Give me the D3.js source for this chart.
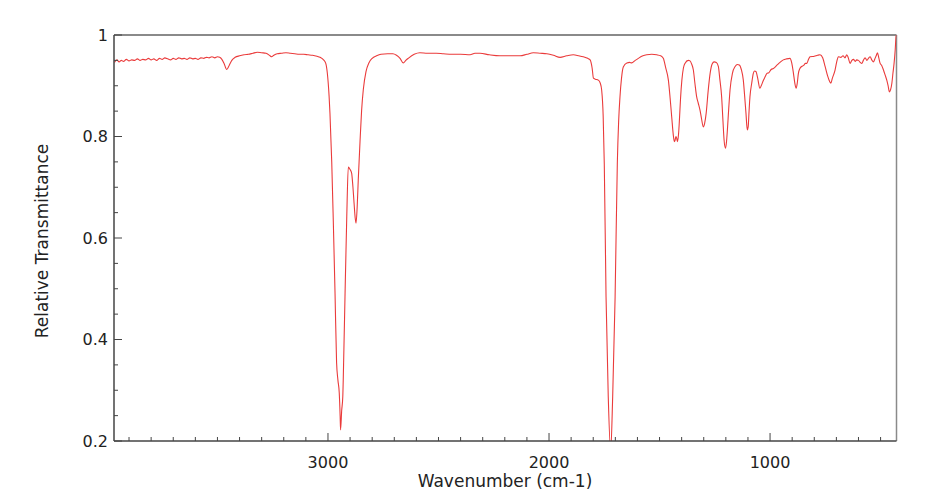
<!DOCTYPE html>
<html>
<head>
<meta charset="utf-8">
<script src="https://cdn.jsdelivr.net/npm/d3@7"></script>
<style>
  html, body { margin: 0; padding: 0; background: #fff; }
  svg { display: block; }
  text { font-family: "DejaVu Sans", sans-serif; fill: #222; }
</style>
</head>
<body>
<svg id="chart" width="928" height="503"></svg>
<script>
// ---- data ----
const wavenumbers = [
  3966,3955,3945,3935,3925,3912,3900,3888,3875,3862,3850,3838,3825,3812,3800,3788,3775,3762,3750,3738,
  3725,3712,3700,3688,3675,3662,3650,3638,3625,3612,3600,3588,3575,3562,3550,3538,3525,3512,3500,3490,
  3480,3470,3458,3447,3435,3420,3400,3380,3360,3340,3320,3300,3280,3262,3255,3245,3230,3210,3190,3170,
  3150,3130,3110,3090,3070,3050,3036,3020,3010,3003,2995,2991,2983,2976,2968,2961,2955,2949,2945,2943,
  2938,2933,2928,2923,2915,2908,2900,2893,2887,2882,2877,2873,2868,2863,2855,2848,2840,2828,2815,2800,
  2780,2760,2730,2706,2690,2674,2659,2648,2637,2610,2584,2550,2510,2478,2440,2400,2357,2335,2312,2270,
  2222,2180,2131,2100,2071,2040,2010,1980,1950,1920,1890,1865,1845,1825,1814,1805,1799,1790,1777,1768,
  1762,1755,1750,1742,1732,1721,1712,1701,1691,1685,1679,1672,1664,1648,1635,1626,1610,1596,1575,1558,
  1535,1513,1495,1483,1472,1460,1452,1445,1437,1433,1430,1426,1422,1419,1414,1410,1405,1399,1392,1385,
  1370,1362,1355,1347,1340,1332,1325,1317,1310,1302,1296,1289,1280,1271,1262,1253,1243,1234,1227,1219,
  1213,1208,1202,1197,1193,1187,1181,1170,1158,1148,1139,1130,1121,1115,1109,1103,1099,1095,1091,1083,
  1076,1070,1064,1056,1046,1040,1030,1022,1015,1005,995,985,970,955,940,925,910,902,894,888,
  882,877,872,865,857,848,840,834,826,819,800,785,774,762,751,740,730,725,718,706,
  698,691,680,670,661,653,646,638,630,622,615,608,600,592,585,578,570,562,555,547,
  540,532,525,519,514,508,502,495,487,480,472,466,460,455,449,444,439,434,430,428
];
const transmittance = [
  .946,.951,.947,.950,.948,.952,.949,.951,.950,.953,.950,.952,.951,.954,.951,.953,.950,.954,.952,.955,
  .953,.951,.954,.952,.955,.953,.954,.952,.955,.953,.954,.952,.955,.954,.956,.955,.957,.955,.957,.956,
  .952,.944,.932,.940,.950,.956,.959,.961,.962,.964,.966,.965,.964,.959,.957,.960,.963,.964,.965,.964,
  .963,.962,.962,.961,.960,.958,.956,.951,.944,.925,.880,.846,.750,.635,.490,.354,.320,.295,.250,.222,
  .260,.287,.380,.484,.642,.740,.735,.728,.700,.669,.640,.629,.660,.714,.790,.850,.893,.928,.945,.954,
  .959,.962,.963,.963,.960,.954,.945,.950,.954,.962,.965,.964,.964,.963,.962,.962,.961,.964,.964,.961,
  .959,.959,.959,.962,.965,.964,.963,.960,.956,.959,.961,.959,.957,.954,.951,.935,.915,.913,.911,.905,
  .892,.840,.747,.484,.287,.180,.287,.484,.747,.830,.878,.915,.937,.945,.946,.945,.950,.954,.959,.961,
  .962,.961,.959,.954,.935,.911,.875,.839,.800,.790,.792,.800,.796,.790,.805,.833,.875,.911,.935,.944,
  .950,.949,.943,.931,.905,.878,.866,.852,.835,.819,.826,.846,.890,.925,.943,.947,.946,.938,.912,.878,
  .830,.793,.777,.790,.813,.855,.892,.925,.938,.942,.941,.932,.911,.880,.846,.813,.819,.850,.878,.905,
  .924,.929,.928,.915,.895,.900,.911,.918,.924,.926,.932,.934,.940,.946,.951,.953,.954,.945,.924,.905,
  .895,.905,.924,.934,.938,.940,.944,.944,.952,.957,.958,.960,.961,.955,.938,.920,.908,.905,.915,.931,
  .948,.957,.956,.959,.955,.961,.955,.944,.950,.952,.948,.951,.950,.946,.944,.950,.955,.950,.954,.957,
  .951,.947,.954,.960,.965,.955,.944,.940,.931,.922,.911,.900,.888,.892,.905,.925,.944,.970,.997,1.0
];
const xMajorTicks = [3000, 2000, 1000];
const yMajorTicks = [0.2, 0.4, 0.6, 0.8, 1];
const yTickLabels = ["0.2", "0.4", "0.6", "0.8", "1"];
const xDomain = [3968, 428];
const yDomain = [0.2, 1];
const xTitle = "Wavenumber (cm-1)";
const yTitle = "Relative Transmittance";

// ---- layout ----
const W = 928, H = 503;
const margin = {top: 35, right: 31.5, bottom: 62, left: 114};
const iw = W - margin.left - margin.right;
const ih = H - margin.top - margin.bottom;

const svg = d3.select("#chart");
const g = svg.append("g").attr("transform", `translate(${margin.left},${margin.top})`);

const x = d3.scaleLinear().domain(xDomain).range([0, iw]);
const y = d3.scaleLinear().domain(yDomain).range([ih, 0]);

svg.append("defs").append("clipPath").attr("id", "clip")
  .append("rect").attr("x", 0).attr("y", 0).attr("width", iw).attr("height", ih);

// frame (top/right lighter grey)
g.append("line").attr("x1", 0).attr("x2", iw).attr("y1", 0).attr("y2", 0)
  .attr("stroke", "#8a8a8a").attr("stroke-width", 2);
g.append("line").attr("x1", iw).attr("x2", iw).attr("y1", 0).attr("y2", ih)
  .attr("stroke", "#8a8a8a").attr("stroke-width", 1.5);

// spectrum
const data = wavenumbers.map((w, i) => ({w, t: transmittance[i]}));
const line = d3.line().x(d => x(d.w)).y(d => y(d.t)).curve(d3.curveMonotoneX);
g.append("path").datum(data)
  .attr("clip-path", "url(#clip)")
  .attr("fill", "none").attr("stroke", "#ea3b3b").attr("stroke-width", 1.1)
  .attr("d", line);

// x axis with inward ticks
const xMinor = d3.range(500, 4000, 100).filter(v => v <= xDomain[0] && v >= xDomain[1] && !xMajorTicks.includes(v));
const xAxisG = g.append("g").attr("transform", `translate(0,${ih})`);
xAxisG.append("line").attr("x1", 0).attr("x2", iw).attr("stroke", "#444").attr("stroke-width", 1.5);
xAxisG.selectAll(".xminor").data(xMinor).join("line")
  .attr("x1", d => x(d)).attr("x2", d => x(d)).attr("y1", 0).attr("y2", -4)
  .attr("stroke", "#444").attr("stroke-width", 1);
xAxisG.selectAll(".xmajor").data(xMajorTicks).join("line")
  .attr("x1", d => x(d)).attr("x2", d => x(d)).attr("y1", 0).attr("y2", -8)
  .attr("stroke", "#444").attr("stroke-width", 1);
xAxisG.selectAll(".xlabel").data(xMajorTicks).join("text")
  .attr("x", d => x(d)).attr("y", 27).attr("text-anchor", "middle")
  .attr("font-size", 16).text(d => String(d));

// y axis with inward ticks
const yMinor = d3.range(0.25, 1, 0.05).filter(v => Math.abs(v * 5 - Math.round(v * 5)) > 1e-6);
const yAxisG = g.append("g");
yAxisG.append("line").attr("y1", 0).attr("y2", ih).attr("stroke", "#444").attr("stroke-width", 1.5);
yAxisG.selectAll(".yminor").data(yMinor).join("line")
  .attr("y1", d => y(d)).attr("y2", d => y(d)).attr("x1", 0).attr("x2", 4)
  .attr("stroke", "#444").attr("stroke-width", 1);
yAxisG.selectAll(".ymajor").data(yMajorTicks).join("line")
  .attr("y1", d => y(d)).attr("y2", d => y(d)).attr("x1", 0).attr("x2", 8)
  .attr("stroke", "#444").attr("stroke-width", 1);
yAxisG.selectAll(".ylabel").data(yMajorTicks).join("text")
  .attr("x", -6).attr("y", d => y(d)).attr("dy", "0.35em").attr("text-anchor", "end")
  .attr("font-size", 16).text((d, i) => yTickLabels[i]);

// titles
svg.append("text").attr("x", margin.left + x(2000) - 44).attr("y", 487)
  .attr("text-anchor", "middle").attr("font-size", 17).text(xTitle);
svg.append("text").attr("transform", `translate(48,${margin.top + ih / 2 + 3}) rotate(-90)`)
  .attr("text-anchor", "middle").attr("font-size", 17).text(yTitle);
</script>
</body>
</html>
